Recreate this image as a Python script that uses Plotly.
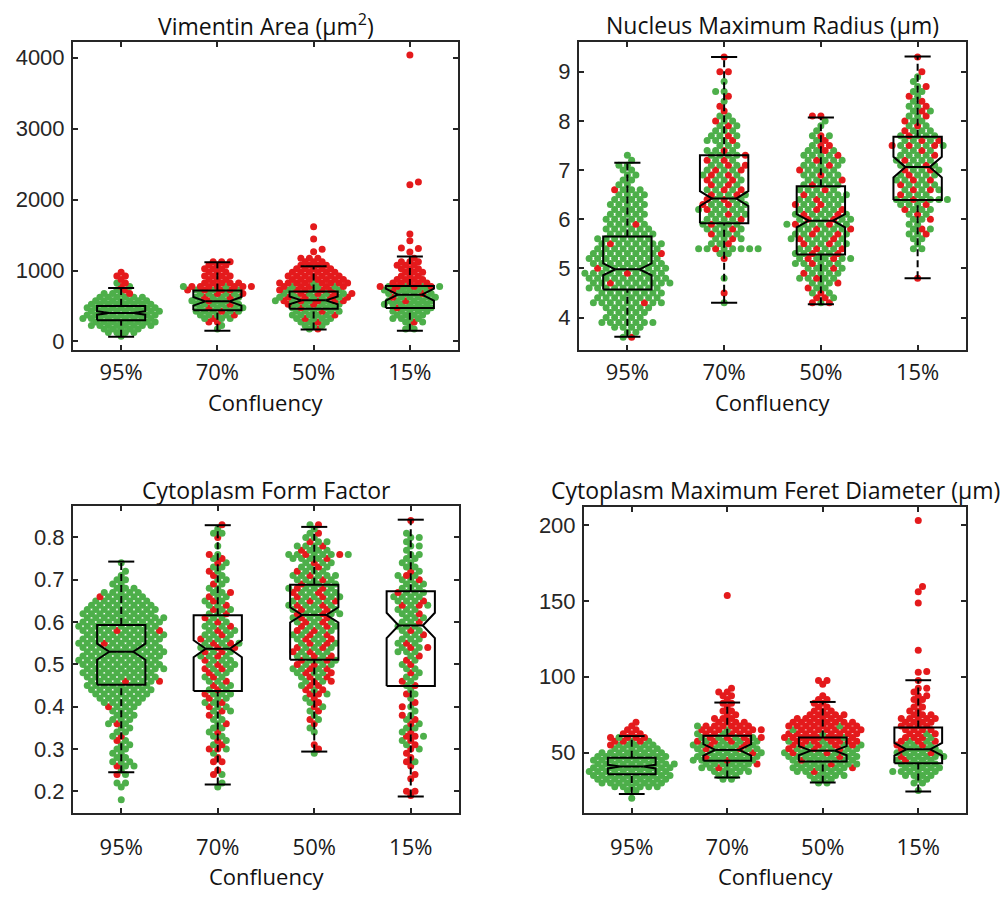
import plotly.graph_objects as go

# ---------------------------------------------------------------------------
# Data: four morphology measurements across four confluency groups.
# Cells are stored as counts per value row (start value + fixed step);
# "red" gives how many of the cells in each row belong to the red class.
# Isolated high values are kept as explicit lists.
# ---------------------------------------------------------------------------
CATEGORIES = ["95%", "70%", "50%", "15%"]

# Vimentin area (µm²)
VIM_STEP = 50
VIM_START = [75, 175, 175, 175]
VIM_N = [
    [1, 4, 5, 8, 8, 9, 9, 9, 9, 8, 7, 6, 4, 2, 2, 2, 1, 2, 1],
    [1, 1, 2, 4, 5, 6, 6, 6, 6, 6, 6, 7, 9, 5, 3, 4, 3, 3, 3, 3],
    [2, 3, 4, 5, 6, 6, 6, 7, 9, 9, 9, 8, 8, 9, 7, 7, 6, 5, 4, 3, 3],
    [2, 1, 3, 4, 4, 5, 5, 6, 6, 6, 6, 6, 8, 5, 4, 3, 3, 3, 3, 3, 1],
]
VIM_RED = [
    [0, 0, 0, 0, 0, 0, 0, 0, 0, 0, 0, 0, 1, 1, 1, 1, 1, 2, 1],
    [0, 0, 2, 1, 1, 1, 1, 1, 1, 2, 2, 4, 7, 5, 3, 4, 3, 3, 3, 3],
    [1, 0, 1, 1, 1, 1, 1, 2, 5, 4, 4, 5, 5, 8, 7, 7, 6, 5, 4, 3, 3],
    [0, 0, 1, 0, 0, 0, 1, 0, 1, 1, 1, 1, 4, 5, 4, 3, 3, 3, 3, 3, 1],
]
VIM_EXTRA_RED = [[], [], [1265, 1300, 1446, 1618],
                 [1263, 1310, 1318, 1422, 1516, 2210, 2250, 4040]]
VIM_Q1 = [299, 440, 463, 473]
VIM_MED = [403, 566, 580, 660]
VIM_Q3 = [500, 720, 706, 782]
VIM_LO = [66, 150, 168, 150]
VIM_HI = [753, 1118, 1062, 1197]
VIM_NOTCH = [25, 61, 55, 84]

# Nucleus maximum radius (µm)
NUC_STEP = 0.1
NUC_START = [3.6, 4.3, 4.3, 4.8]
NUC_N = [
    [2, 2, 4, 7, 5, 5, 6, 9, 8, 8, 9, 10, 10, 10, 9, 9, 9, 9, 8, 8,
     7, 6, 6, 5, 5, 5, 4, 5, 4, 4, 4, 2, 2, 2, 2, 2, 1, 1],
    [1, 0, 1, 0, 0, 1, 0, 0, 0, 1, 2, 8, 3, 4, 4, 5, 5, 5, 5, 6,
     6, 5, 5, 5, 4, 5, 5, 5, 5, 4, 5, 4, 3, 4, 4, 3, 3, 3, 2, 1,
     1, 1, 1, 2, 0, 1, 0, 2, 0, 0, 1],
    [3, 3, 3, 3, 4, 5, 5, 5, 6, 7, 6, 6, 6, 7, 7, 7, 8, 7, 7, 6,
     6, 6, 6, 5, 5, 5, 5, 5, 5, 5, 5, 4, 3, 2, 3, 1, 1, 1, 2],
    [1, 0, 0, 0, 0, 0, 2, 1, 2, 3, 3, 2, 3, 3, 4, 4, 7, 4, 5, 5,
     5, 5, 5, 5, 5, 5, 4, 7, 5, 5, 4, 3, 3, 3, 3, 3, 2, 2, 2, 2,
     1, 1, 1, 0, 0, 1],
]
NUC_RED = [
    [1, 0, 0, 0, 0, 0, 0, 1, 0, 0, 0, 1, 0, 1, 1, 0, 0, 1, 0, 1,
     0, 0, 0, 1, 0, 0, 0, 0, 0, 0, 1, 0, 0, 0, 0, 0, 0, 0],
    [0, 0, 1, 0, 0, 0, 0, 0, 0, 1, 0, 1, 1, 1, 1, 1, 1, 1, 1, 1,
     2, 2, 2, 2, 2, 2, 2, 2, 2, 2, 1, 1, 0, 1, 1, 0, 1, 1, 0, 1,
     1, 0, 1, 0, 0, 0, 0, 2, 0, 0, 1],
    [2, 2, 1, 1, 1, 1, 1, 1, 1, 2, 2, 2, 2, 2, 2, 2, 2, 2, 2, 2,
     2, 1, 1, 1, 1, 1, 1, 1, 1, 1, 1, 1, 2, 1, 1, 0, 0, 0, 2],
    [1, 0, 0, 0, 0, 0, 0, 0, 0, 1, 1, 0, 1, 1, 1, 1, 1, 1, 2, 1,
     2, 1, 2, 1, 1, 1, 1, 3, 2, 1, 1, 1, 1, 1, 1, 1, 1, 1, 0, 1,
     0, 0, 1, 0, 0, 1],
]
NUC_EXTRA_RED = [[], [], [], []]
NUC_Q1 = [4.57, 5.92, 5.28, 6.39]
NUC_MED = [4.98, 6.42, 5.97, 7.06]
NUC_Q3 = [5.65, 7.30, 6.67, 7.68]
NUC_LO = [3.61, 4.30, 4.27, 4.80]
NUC_HI = [7.15, 9.30, 8.07, 9.31]
NUC_NOTCH = [0.12, 0.15, 0.135, 0.21]

# Cytoplasm form factor
FORM_STEP = 0.01
FORM_START = [0.18, 0.21, 0.29, 0.19]
FORM_N = [
    [1, 0, 0, 1, 2, 0, 2, 1, 3, 3, 2, 2,
     2, 2, 2, 2, 2, 2, 3, 3, 3, 3,
     4, 5, 6, 7, 8, 8, 9, 9, 9, 10,
     10, 10, 10, 10, 10, 10, 10, 10, 10, 10,
     10, 10, 9, 9, 8, 7, 6, 5, 3, 2,
     2, 1, 1, 0, 1],
    [1, 1, 0, 2, 1, 0, 2, 1, 1,
     3, 2, 2, 2, 2, 2, 2, 2, 2, 3,
     3, 3, 3, 4, 3, 3, 3, 3, 3, 4,
     4, 4, 4, 4, 5, 5, 4, 4, 4, 4,
     3, 3, 3, 3, 3, 3, 3, 3, 2, 2,
     2, 2, 2, 2, 2, 2, 2, 0, 1, 0,
     1, 2, 1, 1],
    [1, 1, 1, 0, 0, 1, 1, 1, 2, 1, 2,
     2, 2, 2, 3, 3, 3, 4, 4, 5, 5,
     5, 5, 5, 5, 5, 5, 5, 5, 5, 5,
     5, 5, 6, 6, 6, 6, 6, 6, 6, 5,
     5, 6, 4, 4, 4, 5, 8, 4, 4, 3,
     2, 2, 1, 2],
    [1, 2, 0, 0, 1, 1, 0, 1, 2, 1, 1,
     2, 2, 2, 3, 2, 2, 2, 2, 2, 1,
     2, 1, 1, 2, 1, 2, 2, 2, 2, 2,
     2, 2, 2, 3, 4, 3, 3, 3, 3, 3,
     3, 3, 3, 3, 4, 4, 4, 4, 3, 3,
     3, 3, 2, 2, 2, 2, 2, 1, 2, 1,
     2, 1, 0, 0, 1],
]
FORM_RED = [
    [0, 0, 0, 0, 0, 0, 1, 0, 1, 0, 0, 0,
     0, 0, 1, 1, 0, 0, 1, 0, 0, 0,
     1, 0, 0, 0, 0, 0, 2, 0, 0, 0,
     0, 0, 0, 0, 0, 1, 0, 0, 2, 0,
     0, 0, 0, 0, 0, 0, 1, 0, 0, 0,
     0, 0, 0, 0, 0],
    [0, 0, 0, 1, 1, 0, 2, 1, 0,
     2, 1, 1, 0, 1, 0, 1, 0, 1, 1,
     1, 1, 1, 1, 1, 1, 1, 1, 1, 2,
     1, 1, 1, 2, 2, 2, 1, 1, 1, 1,
     1, 1, 1, 1, 1, 1, 1, 1, 0, 1,
     0, 1, 1, 0, 1, 1, 1, 0, 0, 0,
     1, 0, 0, 1],
    [0, 1, 1, 0, 0, 0, 0, 1, 1, 0, 1,
     1, 1, 1, 2, 2, 2, 2, 2, 2, 2,
     2, 2, 2, 2, 2, 2, 2, 2, 2, 2,
     2, 2, 2, 2, 2, 2, 2, 2, 2, 1,
     1, 1, 1, 1, 1, 1, 2, 1, 1, 1,
     0, 1, 0, 1],
    [1, 2, 0, 0, 1, 1, 0, 1, 1, 1, 1,
     1, 1, 1, 2, 1, 0, 1, 1, 1, 0,
     1, 1, 0, 1, 0, 1, 1, 0, 1, 0,
     1, 1, 1, 0, 2, 1, 0, 1, 1, 0,
     1, 0, 1, 0, 2, 1, 0, 1, 0, 0,
     1, 1, 1, 0, 0, 0, 0, 0, 0, 0,
     0, 0, 0, 0, 1],
]
FORM_EXTRA_RED = [[], [], [], []]
FORM_Q1 = [0.452, 0.437, 0.511, 0.449]
FORM_MED = [0.530, 0.537, 0.617, 0.592]
FORM_Q3 = [0.593, 0.616, 0.688, 0.673]
FORM_LO = [0.245, 0.216, 0.294, 0.188]
FORM_HI = [0.743, 0.829, 0.825, 0.842]
FORM_NOTCH = [0.019, 0.020, 0.018, 0.030]

# Cytoplasm maximum Feret diameter (µm)
FER_STEP = 2.5
FER_START = [20, 32.5, 30, 25]
FER_N = [
    [1, 0, 2, 6, 8, 9, 10, 10, 10, 10, 9, 9, 8, 6, 6, 5, 5, 3, 2, 1, 1],
    [2, 3, 5, 6, 7, 8, 8, 8, 8, 8, 8, 8, 7, 8, 7, 4, 3, 2, 2, 1,
     2, 1, 2, 2, 1],
    [2, 3, 5, 6, 8, 8, 8, 9, 9, 9, 9, 9, 9, 9, 9, 9, 8, 6, 5, 3,
     2, 2, 2, 1, 0, 0, 1, 2],
    [1, 0, 2, 2, 4, 6, 5, 5, 5, 6, 6, 5, 5, 5, 4, 4, 4, 4, 4, 5,
     3, 2, 2, 1, 2, 2, 1, 2, 0, 1],
]
FER_RED = [
    [0, 0, 0, 0, 0, 0, 0, 0, 0, 0, 0, 0, 0, 0, 1, 3, 4, 3, 2, 1, 1],
    [0, 0, 0, 1, 1, 1, 1, 1, 2, 2, 4, 4, 5, 7, 6, 4, 3, 2, 2, 1,
     2, 1, 2, 2, 1],
    [0, 0, 0, 1, 1, 1, 1, 1, 2, 3, 5, 7, 8, 8, 8, 8, 8, 6, 5, 3,
     2, 2, 2, 1, 0, 0, 1, 2],
    [0, 0, 0, 0, 0, 0, 0, 0, 1, 1, 1, 1, 2, 3, 3, 3, 4, 4, 4, 5,
     3, 2, 2, 1, 2, 2, 1, 2, 0, 1],
]
FER_EXTRA_RED = [[], [153.5], [], [103, 103.5, 117.5, 148.5, 156, 159.5, 203]]
FER_Q1 = [35.8, 44.6, 44.1, 43.0]
FER_MED = [40.8, 51.8, 51.3, 52.2]
FER_Q3 = [46.7, 61.1, 60.0, 66.6]
FER_LO = [22.7, 33.6, 30.3, 24.4]
FER_HI = [60.9, 83.0, 83.4, 97.7]
FER_NOTCH = [1.2, 3.8, 3.0, 4.2]

TITLES = ["Vimentin Area (μm<sup>2</sup>)", "Nucleus Maximum Radius (μm)",
          "Cytoplasm Form Factor", "Cytoplasm Maximum Feret Diameter (μm)"]
Y_TICKS = [[0, 1000, 2000, 3000, 4000], [4, 5, 6, 7, 8, 9],
           [0.2, 0.3, 0.4, 0.5, 0.6, 0.7, 0.8], [50, 100, 150, 200]]
Y_TICKTEXT = [["0", "1000", "2000", "3000", "4000"], ["4", "5", "6", "7", "8", "9"],
              ["0.2", "0.3", "0.4", "0.5", "0.6", "0.7", "0.8"], ["50", "100", "150", "200"]]

# ---------------------------------------------------------------------------
# Layout / style
# ---------------------------------------------------------------------------
W, H = 1005, 897
PANEL_PX = [(73, 458, 42, 352), (579, 966, 42, 352),
            (73, 459, 508, 817), (584, 966, 509, 817)]
Y_RANGES = [(-126, 4225), (3.33, 9.61), (0.148, 0.875), (10, 212)]
X_RANGE = (0.5, 4.5)
TITLE_Y = [25, 25, 492.5, 492.5]
XLABEL_Y = [404, 404, 880, 880]
XTICK_STANDOFF = [1, 1, 13, 13]

GREEN = "#4DAF4A"
RED = "#E41A1C"
AXIS_COLOR = "#262626"
TEXT_FONT = "Open Sans"
NUM_FONT = "Liberation Sans"
DX_PX = 8.5        # horizontal spacing of neighbouring swarm points
DMIN_PX = 6.0      # minimum distance for isolated points
MARKER = 7
BOX_HALF = 0.25
NOTCH_HALF = 0.125
CAP_HALF = 0.135
GOLDEN = 0.618034  # rotates where the red dots sit from one row to the next

PANELS = [
    (VIM_START, VIM_STEP, VIM_N, VIM_RED, VIM_EXTRA_RED,
     VIM_Q1, VIM_MED, VIM_Q3, VIM_LO, VIM_HI, VIM_NOTCH),
    (NUC_START, NUC_STEP, NUC_N, NUC_RED, NUC_EXTRA_RED,
     NUC_Q1, NUC_MED, NUC_Q3, NUC_LO, NUC_HI, NUC_NOTCH),
    (FORM_START, FORM_STEP, FORM_N, FORM_RED, FORM_EXTRA_RED,
     FORM_Q1, FORM_MED, FORM_Q3, FORM_LO, FORM_HI, FORM_NOTCH),
    (FER_START, FER_STEP, FER_N, FER_RED, FER_EXTRA_RED,
     FER_Q1, FER_MED, FER_Q3, FER_LO, FER_HI, FER_NOTCH),
]


def swarm(center, start, step, counts, reds, extra, ppx, ppy):
    """Lay out one group as a staggered row beeswarm; returns x, y, colours."""
    xs, ys, cs, placed = [], [], [], []
    prev_k, prev_phase, sign = None, None, 1
    for k, (n, r) in enumerate(zip(counts, reds)):
        if n == 0:
            continue
        y = round(start + k * step, 6)
        phase = 0.0 if n % 2 else 0.5
        shift = 0.0
        # neighbouring rows are offset by half a slot so dots interleave
        if prev_k == k - 1 and phase == prev_phase:
            shift = 0.5 * sign
            sign = -sign
        prev_k, prev_phase = k, (phase + shift) % 1.0
        rot = int((k * GOLDEN % 1.0) * n)
        red_idx = ({(int((j + 0.5) * n / r) + rot) % n for j in range(r)}
                   if r else set())
        for i in range(n):
            off = (i - (n - 1) / 2 + shift) * DX_PX
            xs.append(center + off / ppx)
            ys.append(y)
            cs.append(RED if i in red_idx else GREEN)
            placed.append((off, y * ppy))
    for v in extra:
        py = v * ppy
        ox = 0.0
        for m in [0, 1, -1, 2, -2, 3, -3, 4, -4]:
            ox = m * DX_PX / 2
            if all((ox - a) ** 2 + (py - b) ** 2 >= DMIN_PX ** 2 for a, b in placed):
                break
        placed.append((ox, py))
        xs.append(center + ox / ppx)
        ys.append(v)
        cs.append(RED)
    return xs, ys, cs


fig = go.Figure()
layout = dict(width=W, height=H, margin=dict(l=0, r=0, t=0, b=0),
              paper_bgcolor="white", plot_bgcolor="white", showlegend=False,
              annotations=[])

for p, (px0, px1, py0, py1) in enumerate(PANEL_PX):
    sfx = "" if p == 0 else str(p + 1)
    xa, ya = "x" + sfx, "y" + sfx
    start, step, n_all, red_all, extra_all, q1, med, q3, lo, hi, notch = PANELS[p]
    ylo, yhi = Y_RANGES[p]
    ppx = (px1 - px0) / (X_RANGE[1] - X_RANGE[0])
    ppy = (py1 - py0) / (yhi - ylo)

    # points
    X, Y, C = [], [], []
    for g in range(4):
        xs, ys, cs = swarm(g + 1, start[g], step, n_all[g], red_all[g],
                           extra_all[g], ppx, ppy)
        X += xs
        Y += ys
        C += cs
    fig.add_trace(go.Scatter(x=X, y=Y, mode="markers", xaxis=xa, yaxis=ya,
                             marker=dict(size=MARKER, color=C, line=dict(width=0)),
                             hoverinfo="skip"))

    # notched boxes, medians, whiskers, caps
    bx, by, mx, my, wx, wy, cx, cy = [], [], [], [], [], [], [], []
    for g in range(4):
        c = g + 1
        a, b = med[g] - notch[g], med[g] + notch[g]
        bx += [c - BOX_HALF, c - BOX_HALF, c - NOTCH_HALF, c - BOX_HALF, c - BOX_HALF,
               c + BOX_HALF, c + BOX_HALF, c + NOTCH_HALF, c + BOX_HALF, c + BOX_HALF,
               c - BOX_HALF, None]
        by += [q1[g], a, med[g], b, q3[g], q3[g], b, med[g], a, q1[g], q1[g], None]
        mx += [c - NOTCH_HALF, c + NOTCH_HALF, None]
        my += [med[g], med[g], None]
        wx += [c, c, None, c, c, None]
        wy += [q3[g], hi[g], None, lo[g], q1[g], None]
        cx += [c - CAP_HALF, c + CAP_HALF, None, c - CAP_HALF, c + CAP_HALF, None]
        cy += [hi[g], hi[g], None, lo[g], lo[g], None]
    fig.add_trace(go.Scatter(x=wx, y=wy, mode="lines", xaxis=xa, yaxis=ya,
                             line=dict(color="black", width=2, dash="7px,4px"),
                             hoverinfo="skip"))
    fig.add_trace(go.Scatter(x=cx, y=cy, mode="lines", xaxis=xa, yaxis=ya,
                             line=dict(color="black", width=2), hoverinfo="skip"))
    fig.add_trace(go.Scatter(x=bx, y=by, mode="lines", xaxis=xa, yaxis=ya,
                             line=dict(color="black", width=2), hoverinfo="skip"))
    fig.add_trace(go.Scatter(x=mx, y=my, mode="lines", xaxis=xa, yaxis=ya,
                             line=dict(color="black", width=2), hoverinfo="skip"))

    common = dict(showline=True, linecolor=AXIS_COLOR, linewidth=2, mirror="ticks",
                  ticks="inside", ticklen=5, tickwidth=1.5, tickcolor=AXIS_COLOR,
                  showgrid=False, zeroline=False, fixedrange=True)
    layout["xaxis" + sfx] = dict(
        common, domain=[px0 / W, px1 / W], anchor=ya, range=list(X_RANGE),
        tickmode="array", tickvals=[1, 2, 3, 4], ticktext=CATEGORIES,
        tickfont=dict(family=TEXT_FONT, size=22, color="#1a1a1a"),
        ticklabelstandoff=XTICK_STANDOFF[p])
    layout["yaxis" + sfx] = dict(
        common, domain=[1 - py1 / H, 1 - py0 / H], anchor=xa, range=[ylo, yhi],
        tickmode="array", tickvals=Y_TICKS[p], ticktext=Y_TICKTEXT[p],
        tickfont=dict(family=NUM_FONT, size=22, color=AXIS_COLOR),
        ticklabelstandoff=2)

    mid = (px0 + px1) / 2 / W
    layout["annotations"].append(dict(
        text=TITLES[p], x=mid, y=1 - TITLE_Y[p] / H, xref="paper", yref="paper",
        xanchor="center", yanchor="middle", showarrow=False,
        font=dict(family=TEXT_FONT, size=23, color="#111111")))
    layout["annotations"].append(dict(
        text="Confluency", x=mid, y=1 - XLABEL_Y[p] / H, xref="paper", yref="paper",
        xanchor="center", yanchor="middle", showarrow=False,
        font=dict(family=TEXT_FONT, size=22, color="#111111")))

fig.update_layout(**layout)
fig.write_html("out.html")
